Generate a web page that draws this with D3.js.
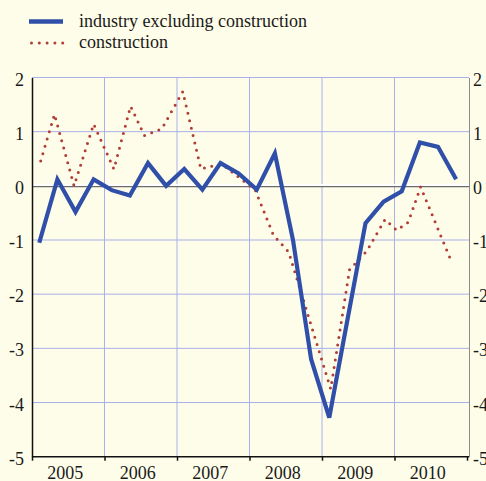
<!DOCTYPE html>
<html>
<head>
<meta charset="utf-8">
<script src="https://cdn.jsdelivr.net/npm/d3@7"></script>
<style>
  body { margin: 0; background: #fefde9; }
  svg { display: block; }
  svg text { font-family: "Liberation Serif", "DejaVu Serif", serif !important; }
</style>
</head>
<body>
<svg id="chart"></svg>
<script>
// series names
const seriesNames = ["industry excluding construction", "construction"];

// year bands on the x axis
const years = [2005, 2006, 2007, 2008, 2009, 2010];
const yTicks = [2, 1, 0, -1, -2, -3, -4, -5];

// industry excluding construction, quarterly (Q1..Q4 per year)
const industryQuarters = years.flatMap(yr => [1, 2, 3, 4].map(q => ({ yr, q })));
const industryValues = [
  -1.05, 0.12, -0.48, 0.12,
  -0.08, -0.18, 0.42, 0.0,
  0.31, -0.07, 0.42, 0.23,
  -0.07, 0.6, -1.0, -3.2,
  -4.28, -2.48, -0.69, -0.29,
  -0.1, 0.8, 0.72, 0.12
];

// construction, turning points (decimal years)
const constructionTimes = [
  2005.12, 2005.31, 2005.58, 2005.85, 2006.13, 2006.36, 2006.55, 2006.79,
  2007.08, 2007.33, 2007.58, 2007.65, 2008.08, 2008.33, 2008.54, 2009.12,
  2009.38, 2009.62, 2009.87, 2010.03, 2010.19, 2010.36, 2010.78
];
const constructionValues = [
  0.46, 1.32, 0.0, 1.14, 0.31, 1.47, 0.93, 1.05,
  1.74, 0.31, 0.40, 0.37, -0.08, -0.91, -1.22, -3.75,
  -1.55, -1.2, -0.62, -0.82, -0.67, -0.02, -1.38
];

const width = 486, height = 481;
const blue = "#2f4fa9", red = "#b23d36", grid = "#a9b0ea";
const serif = "'Liberation Serif', 'DejaVu Serif', serif";

const svg = d3.select("#chart").attr("width", width).attr("height", height);

const x = d3.scaleLinear().domain([2005, 2011]).range([32, 467]);
const y = d3.scaleLinear().domain([-5, 2]).range([456.7, 77.5]);

// horizontal grid
svg.append("g")
  .selectAll("line")
  .data(yTicks.filter(d => d !== 0 && d !== -5))
  .join("line")
  .attr("x1", 32).attr("x2", 469)
  .attr("y1", d => y(d)).attr("y2", d => y(d))
  .attr("stroke", grid).attr("stroke-width", 1);

// vertical grid at year boundaries
svg.append("g")
  .selectAll("line")
  .data(years.slice(1))
  .join("line")
  .attr("x1", d => x(d)).attr("x2", d => x(d))
  .attr("y1", y(2)).attr("y2", y(-5))
  .attr("stroke", grid).attr("stroke-width", 1);

// zero line
svg.append("rect")
  .attr("x", 32).attr("width", 437)
  .attr("y", y(0) - 2).attr("height", 2)
  .attr("fill", "#ffffff");
svg.append("line")
  .attr("x1", 32).attr("x2", 469)
  .attr("y1", y(0) + 0.8).attr("y2", y(0) + 0.8)
  .attr("stroke", "#6b6b6b").attr("stroke-width", 1.4);

// axes
const leftAxis = svg.append("g")
  .attr("transform", "translate(32,0)")
  .call(d3.axisLeft(y).tickValues(yTicks).tickSize(0).tickPadding(8).tickFormat(d => String(d)));
leftAxis.select(".domain").attr("stroke", "#111").attr("stroke-width", 1.5);

const rightAxis = svg.append("g")
  .attr("transform", "translate(469,0)")
  .call(d3.axisRight(y).tickValues(yTicks).tickSize(0).tickPadding(4).tickFormat(d => String(d)));
rightAxis.select(".domain").attr("stroke", "#8a8a8a").attr("stroke-width", 1);

[leftAxis, rightAxis].forEach(a => {
  a.attr("font-family", serif).attr("font-size", 18);
  a.selectAll("text")
    .attr("fill", "#1a1a1a")
    .style("font-family", serif)
    .attr("dy", "0.42em");
});

const bottomAxis = svg.append("g")
  .attr("transform", `translate(0,${y(-5)})`)
  .call(d3.axisBottom(x).tickValues(years.concat([2011])).tickSize(4).tickFormat(""));
bottomAxis.select(".domain").attr("stroke", "#111").attr("stroke-width", 1.5)
  .attr("d", `M32,0H469`);
bottomAxis.selectAll(".tick line").attr("stroke", "#111").attr("stroke-width", 1.5);

svg.append("g")
  .selectAll("text")
  .data(years)
  .join("text")
  .attr("x", d => x(d + 0.5) - 3)
  .attr("y", 479)
  .attr("text-anchor", "middle")
  .attr("font-size", 18)
  .style("font-family", serif)
  .attr("fill", "#1a1a1a")
  .text(d => d);

// construction (dotted)
const constructionLine = d3.line()
  .x((d, i) => x(constructionTimes[i]))
  .y(d => y(d));
svg.append("path")
  .datum(constructionValues)
  .attr("d", constructionLine)
  .attr("fill", "none")
  .attr("stroke", red)
  .attr("stroke-width", 3)
  .attr("stroke-linecap", "round")
  .attr("stroke-dasharray", "0,7.6");

// industry excluding construction
const industryLine = d3.line()
  .x((d, i) => x(industryQuarters[i].yr + (industryQuarters[i].q - 0.6) / 4))
  .y(d => y(d));
svg.append("path")
  .datum(industryValues)
  .attr("d", industryLine)
  .attr("fill", "none")
  .attr("stroke", blue)
  .attr("stroke-width", 4.2)
  .attr("stroke-linejoin", "miter");

// legend
const legend = svg.append("g");
legend.append("line")
  .attr("x1", 29).attr("x2", 63).attr("y1", 21.5).attr("y2", 21.5)
  .attr("stroke", blue).attr("stroke-width", 4.5);
legend.append("line")
  .attr("x1", 31.5).attr("x2", 63).attr("y1", 43).attr("y2", 43)
  .attr("stroke", red).attr("stroke-width", 3)
  .attr("stroke-linecap", "round").attr("stroke-dasharray", "0,7.8");
legend.selectAll("text")
  .data(seriesNames)
  .join("text")
  .attr("x", 79)
  .attr("y", (d, i) => 27 + i * 21)
  .attr("font-size", 18)
  .style("font-family", serif)
  .attr("fill", "#1a1a1a")
  .text(d => d);
</script>
</body>
</html>
